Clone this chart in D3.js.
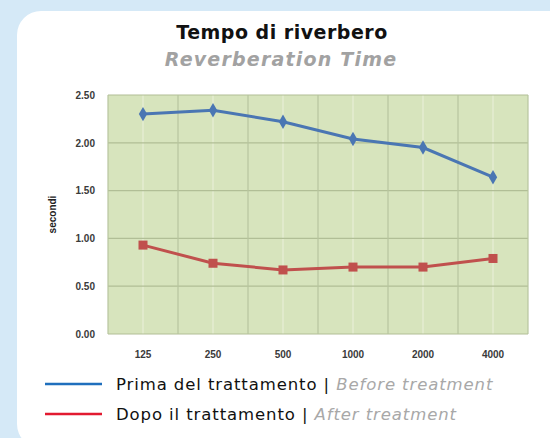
<!DOCTYPE html>
<html>
<head>
<meta charset="utf-8">
<script src="https://cdn.jsdelivr.net/npm/d3@7"></script>
<style>
  body { margin: 0; background: #d5e9f7; }
  svg { display: block; }
</style>
</head>
<body>
<svg id="chart"></svg>
<script>
let svgWidth = 550;
let svgHeight = 438;

// data
let frequencies = ["125", "250", "500", "1000", "2000", "4000"];
let beforeValues = [2.30, 2.34, 2.22, 2.04, 1.95, 1.64];
let afterValues = [0.93, 0.74, 0.67, 0.70, 0.70, 0.79];
let yTicks = [0, 0.5, 1, 1.5, 2, 2.5];

let margin = { top: 95, right: 22, bottom: 104, left: 108 };
let width = svgWidth - margin.left - margin.right;
let height = svgHeight - margin.top - margin.bottom;

let svg = d3.select("#chart")
  .attr("width", svgWidth)
  .attr("height", svgHeight);

// white card
svg.append("rect")
  .attr("x", 17).attr("y", 11)
  .attr("width", 560).attr("height", 437)
  .attr("rx", 24).attr("ry", 24)
  .attr("fill", "#ffffff");

// titles
svg.append("text")
  .attr("x", 282).attr("y", 39)
  .attr("text-anchor", "middle")
  .attr("font-family", "DejaVu Sans")
  .attr("font-weight", "bold")
  .attr("font-size", 19)
  .attr("letter-spacing", 0.5)
  .attr("fill", "#111")
  .text("Tempo di riverbero");

svg.append("text")
  .attr("x", 281).attr("y", 66)
  .attr("text-anchor", "middle")
  .attr("font-family", "DejaVu Sans")
  .attr("font-style", "italic")
  .attr("font-weight", "bold")
  .attr("font-size", 19)
  .attr("letter-spacing", 1.2)
  .attr("fill", "#a2a2a2")
  .text("Reverberation Time");

let chartGroup = svg.append("g")
  .attr("transform", `translate(${margin.left}, ${margin.top})`);

let xScale = d3.scaleBand()
  .domain(frequencies)
  .range([0, width]);

let yScale = d3.scaleLinear()
  .domain([0, 2.5])
  .range([height, 0]);

// plot background
chartGroup.append("rect")
  .attr("width", width)
  .attr("height", height)
  .attr("fill", "#d7e4bd");

// faint light lines inside each band
chartGroup.selectAll(".minor")
  .data(frequencies)
  .enter()
  .append("line")
  .attr("x1", d => xScale(d) + xScale.bandwidth() / 2)
  .attr("x2", d => xScale(d) + xScale.bandwidth() / 2)
  .attr("y1", 0).attr("y2", height)
  .attr("stroke", "#e4edd2")
  .attr("stroke-width", 1.5);

// horizontal gridlines
chartGroup.selectAll(".hgrid")
  .data(yTicks)
  .enter()
  .append("line")
  .attr("x1", 0).attr("x2", width)
  .attr("y1", d => yScale(d)).attr("y2", d => yScale(d))
  .attr("stroke", "#b1be96")
  .attr("stroke-width", 1.2);

// vertical gridlines at band edges
let edges = frequencies.map(d => xScale(d)).concat([width]);
chartGroup.selectAll(".vgrid")
  .data(edges)
  .enter()
  .append("line")
  .attr("x1", d => d).attr("x2", d => d)
  .attr("y1", 0).attr("y2", height)
  .attr("stroke", "#b8c59f")
  .attr("stroke-width", 1.2);

// y axis labels
let leftAxis = d3.axisLeft(yScale)
  .tickValues(yTicks)
  .tickFormat(d3.format(".2f"))
  .tickSize(0)
  .tickPadding(13);

chartGroup.append("g")
  .call(leftAxis)
  .call(g => g.select(".domain").remove())
  .selectAll("text")
  .attr("font-family", "Liberation Sans")
  .attr("font-weight", "bold")
  .attr("font-size", 10)
  .attr("fill", "#3a3a3a");

// x axis labels
let bottomAxis = d3.axisBottom(xScale)
  .tickSize(0)
  .tickPadding(17);

chartGroup.append("g")
  .attr("transform", `translate(0, ${height})`)
  .call(bottomAxis)
  .call(g => g.select(".domain").remove())
  .selectAll("text")
  .attr("font-family", "Liberation Sans")
  .attr("font-weight", "bold")
  .attr("font-size", 10)
  .attr("fill", "#3a3a3a");

// y axis title
chartGroup.append("text")
  .attr("transform", "rotate(-90)")
  .attr("x", -(height / 2))
  .attr("y", -52)
  .attr("text-anchor", "middle")
  .attr("font-family", "Liberation Sans")
  .attr("font-weight", "bold")
  .attr("font-size", 10)
  .attr("fill", "#222")
  .text("secondi");

let cx = d => xScale(d) + xScale.bandwidth() / 2;

let line = d3.line()
  .x((d, i) => cx(frequencies[i]))
  .y(d => yScale(d));

// before treatment
chartGroup.append("path")
  .datum(beforeValues)
  .attr("d", line)
  .attr("fill", "none")
  .attr("stroke", "#4a76b3")
  .attr("stroke-width", 3);

chartGroup.selectAll(".diamond")
  .data(beforeValues)
  .enter()
  .append("path")
  .attr("d", d3.symbol().type(d3.symbolDiamond).size(60))
  .attr("transform", (d, i) => `translate(${cx(frequencies[i])}, ${yScale(d)})`)
  .attr("fill", "#4a76b3");

// after treatment
chartGroup.append("path")
  .datum(afterValues)
  .attr("d", line)
  .attr("fill", "none")
  .attr("stroke", "#c0504d")
  .attr("stroke-width", 3);

chartGroup.selectAll(".square")
  .data(afterValues)
  .enter()
  .append("rect")
  .attr("x", (d, i) => cx(frequencies[i]) - 4.5)
  .attr("y", d => yScale(d) - 4.5)
  .attr("width", 9).attr("height", 9)
  .attr("fill", "#c0504d");

// legend
let legendItems = [
  { color: "#1f6fbd", main: "Prima del trattamento | ", sub: "Before treatment", y: 384 },
  { color: "#e21a30", main: "Dopo il trattamento | ", sub: "After treatment", y: 414 }
];

legendItems.forEach(item => {
  svg.append("line")
    .attr("x1", 45).attr("x2", 102)
    .attr("y1", item.y).attr("y2", item.y)
    .attr("stroke", item.color)
    .attr("stroke-width", 2.5);

  let t = svg.append("text")
    .attr("x", 116).attr("y", item.y + 6)
    .attr("font-family", "DejaVu Sans")
    .attr("font-size", 16.5)
    .attr("letter-spacing", 0.9)
    .attr("fill", "#111");
  t.append("tspan").text(item.main);
  t.append("tspan")
    .attr("font-style", "italic")
    .attr("fill", "#a8a8a8")
    .text(item.sub);
});
</script>
</body>
</html>
